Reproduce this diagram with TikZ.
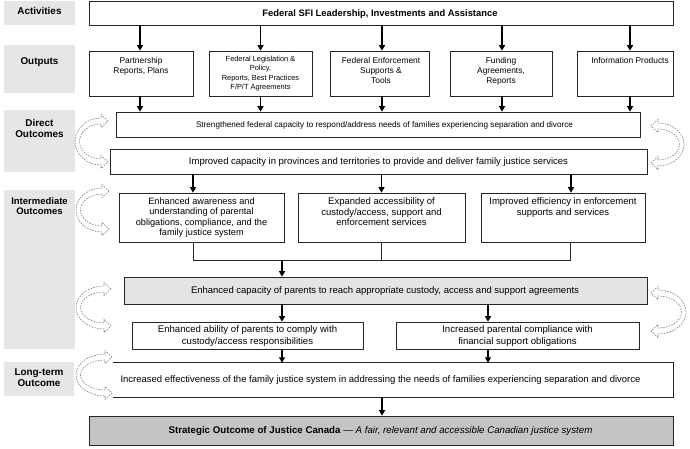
\documentclass[tikz,border=0pt]{standalone}
\usepackage{fontspec}
\setmainfont{Liberation Sans}
\usetikzlibrary{arrows.meta,calc}

\definecolor{lblgrey}{HTML}{E6E6E6}
\definecolor{capgrey}{HTML}{E4E4E4}
\definecolor{strgrey}{HTML}{C4C4C4}
\definecolor{dashgrey}{HTML}{7F7F7F}

\tikzset{
  box/.style={draw=black!85, line width=0.7pt, rectangle, inner sep=0pt},
  lbl/.style={fill=lblgrey, rectangle, inner sep=0pt},
  lbltext/.style={font=\fontsize{9.9}{11}\selectfont\bfseries, align=center, inner sep=0pt},
  txtS/.style={font=\fontsize{8.4}{10}\selectfont, align=center, inner sep=0pt},
  txtM/.style={font=\fontsize{9.5}{10.6}\selectfont, align=center, inner sep=0pt},
  txtD/.style={font=\fontsize{8.15}{9.4}\selectfont, align=center, inner sep=0pt},
  arr/.style={line width=1.3pt, -{Triangle[length=5.5pt,width=6pt]}},
  mline/.style={line width=0.7pt, draw=black!85},
  boxline/.style={line width=0.7pt, draw=black!85},
  dasharrow/.style={draw=dashgrey, line width=0.6pt, dash pattern=on 1.6pt off 1.2pt},
}

\newcommand{\curvarrow}[5]{%
  \pgfmathsetmacro{\cxa}{#1-#5*7}%
  \pgfmathsetmacro{\cLo}{#4}%
  \pgfmathsetmacro{\cLi}{#4+#5*4.5}%
  \pgfmathsetmacro{\cym}{(#2+#3)/2}%
  \pgfmathsetmacro{\coA}{\cxa+(\cLo-\cxa)*0.55}%
  \pgfmathsetmacro{\ciA}{\cxa+(\cLi-\cxa)*0.55}%
  \pgfmathsetmacro{\coT}{\cym-(\cym-#2+3)*0.55}%
  \pgfmathsetmacro{\coB}{\cym+(#3+3-\cym)*0.55}%
  \pgfmathsetmacro{\ciT}{\cym-(\cym-#2-3)*0.55}%
  \pgfmathsetmacro{\ciB}{\cym+(#3-3-\cym)*0.55}%
  \draw[dasharrow] (#1,#2) -- (\cxa,{#2-6.5}) -- (\cxa,{#2-3})
    .. controls (\coA,{#2-3}) and (\cLo,\coT) .. (\cLo,\cym)
    .. controls (\cLo,\coB) and (\coA,{#3+3}) .. (\cxa,{#3+3})
    -- (\cxa,{#3+6.5}) -- (#1,#3) -- (\cxa,{#3-6.5}) -- (\cxa,{#3-3})
    .. controls (\ciA,{#3-3}) and (\cLi,\ciB) .. (\cLi,\cym)
    .. controls (\cLi,\ciT) and (\ciA,{#2+3}) .. (\cxa,{#2+3})
    -- (\cxa,{#2+6.5}) -- cycle;%
}

\begin{document}
\begin{tikzpicture}[x=1pt, y=-1pt]
\useasboundingbox (0,0) rectangle (690,449);

% left labels
\node[lbl, minimum width=71pt, minimum height=24pt] (la) at (39.5,13) {};
\node[lbltext] (lat) at (39.5,11) {Activities};
\node[lbl, minimum width=71pt, minimum height=48pt] (lo) at (39.5,69) {};
\node[lbltext] (lot) at (39.5,62) {Outputs};
\node[lbl, minimum width=71pt, minimum height=62pt] (ld) at (39.5,141) {};
\node[lbltext] (ldt) at (39.5,128) {Direct\\Outcomes};
\node[lbl, minimum width=71pt, minimum height=159pt] (li) at (39.5,269.5) {};
\node[lbltext, font=\fontsize{9.5}{10.5}\selectfont\bfseries] (lit) at (39.5,206) {Intermediate\\Outcomes};
\node[lbl, minimum width=70pt, minimum height=34pt] (ll) at (39,379) {};
\node[lbltext] (llt) at (39,378) {Long-term\\Outcome};

% activities
\node[box, minimum width=584pt, minimum height=24pt] (act) at (381,13) {};
\node[font=\fontsize{9.4}{10}\selectfont\bfseries, inner sep=0pt] (actt) at (380,14) {Federal SFI Leadership, Investments and Assistance};

% outputs
\node[box, minimum width=104pt, minimum height=45pt] (o1) at (141,73.5) {};
\node[box, minimum width=103pt, minimum height=45pt] (o2) at (260.5,73.5) {};
\node[box, minimum width=99pt, minimum height=45pt] (o3) at (379.5,73.5) {};
\node[box, minimum width=102pt, minimum height=45pt] (o4) at (501,73.5) {};
\node[box, minimum width=96pt, minimum height=45pt] (o5) at (625,73.5) {};
\node[txtS, anchor=north] (o1t) at (141,57) {Partnership\\Reports, Plans};
\node[txtS, font=\fontsize{7.4}{9.3}\selectfont, anchor=north] (o2t) at (260.5,56) {Federal Legislation \&\\Policy,\\Reports, Best Practices\\F/P/T Agreements};
\node[txtS, anchor=north] (o3t) at (381,57) {Federal Enforcement\\Supports \&\\Tools};
\node[txtS, anchor=north] (o4t) at (501,57) {Funding\\Agreements,\\Reports};
\node[txtS, anchor=north] (o5t) at (630,57) {Information Products};

% direct outcomes
\node[box, minimum width=524pt, minimum height=25pt] (d1) at (378,124.5) {};
\node[txtD] (d1t) at (384.5,125) {Strengthened federal capacity to respond/address needs of families experiencing separation and divorce};
\node[box, minimum width=537pt, minimum height=25pt] (d2) at (378.5,161.5) {};
\node[txtM] (d2t) at (378.5,162) {Improved capacity in provinces and territories to provide and deliver family justice services};

% intermediate outcomes
\node[box, minimum width=165pt, minimum height=49pt] (i1) at (201.5,217.5) {};
\node[txtM, font=\fontsize{9.2}{10.4}\selectfont, anchor=north] (i1t) at (201.5,197.5) {Enhanced awareness and\\understanding of parental\\obligations, compliance, and the\\family justice system};
\node[box, minimum width=167pt, minimum height=49pt] (i2) at (381.5,217.5) {};
\node[txtM, anchor=north] (i2t) at (381.5,197.5) {Expanded accessibility of\\custody/access, support and\\enforcement services};
\node[box, minimum width=164pt, minimum height=49pt] (i3) at (563,217.5) {};
\node[txtM, anchor=north] (i3t) at (563,197.5) {Improved efficiency in enforcement\\supports and services};

\node[box, fill=capgrey, minimum width=523pt, minimum height=27pt] (cap) at (385.5,290.5) {};
\node[txtM] (capt) at (385,291.5) {Enhanced capacity of parents to reach appropriate custody, access and support agreements};

\node[box, minimum width=231pt, minimum height=27pt] (ea) at (247.5,335.5) {};
\node[txtM, font=\fontsize{9.6}{11.2}\selectfont] (eat) at (247.5,336) {Enhanced ability of parents to comply with\\custody/access responsibilities};
\node[box, minimum width=243pt, minimum height=27pt] (ipc) at (517.5,335.5) {};
\node[txtM, font=\fontsize{9.6}{11.2}\selectfont] (ipct) at (517.5,336) {Increased parental compliance with\\financial support obligations};

% long-term outcome (open on the left)
\node[inner sep=0pt, minimum width=560pt, minimum height=34pt] (lt) at (393,380) {};
\draw[boxline] (lt.north west) -- (lt.north east) -- (lt.south east) -- (lt.south west);
\node[txtM] (ltt) at (380.5,380.5) {Increased effectiveness of the family justice system in addressing the needs of families experiencing separation and divorce};

% strategic outcome
\node[box, fill=strgrey, minimum width=584pt, minimum height=29pt] (st) at (381,430.5) {};
\node[font=\fontsize{9.7}{10}\selectfont, inner sep=0pt] (stt) at (380.5,431) {\textbf{Strategic Outcome of Justice Canada} --- \textit{A fair, relevant and accessible Canadian justice system}};

% arrows activities -> outputs
\draw[arr] ($(act.south -| o1.north)+(-1,0)$) -- ($(o1.north)+(-1,0)$);
\draw[arr] (act.south -| o2.north) -- (o2.north);
\draw[arr] ($(act.south -| o3.north)+(2.5,0)$) -- ($(o3.north)+(2.5,0)$);
\draw[arr] ($(act.south -| o4.north)+(1,0)$) -- ($(o4.north)+(1,0)$);
\draw[arr] ($(act.south -| o5.north)+(5,0)$) -- ($(o5.north)+(5,0)$);

% arrows outputs -> direct
\draw[arr] ($(o1.south)+(-1,0)$) -- ($(o1.south |- d1.north)+(-1,0)$);
\draw[arr] (o2.south) -- (o2.south |- d1.north);
\draw[arr] ($(o3.south)+(2.5,0)$) -- ($(o3.south |- d1.north)+(2.5,0)$);
\draw[arr] ($(o4.south)+(1,0)$) -- ($(o4.south |- d1.north)+(1,0)$);
\draw[arr] ($(o5.south)+(5,0)$) -- ($(o5.south |- d1.north)+(5,0)$);

% d2 -> intermediate
\draw[arr] ($(i1.north |- d2.south)+(-8.5,0)$) -- ($(i1.north)+(-8.5,0)$);
\draw[arr] (i2.north |- d2.south) -- (i2.north);
\draw[arr] ($(i3.north |- d2.south)+(8,0)$) -- ($(i3.north)+(8,0)$);

% merge
\coordinate (jL) at (193,260);
\coordinate (jR) at (570,260);
\coordinate (jM) at (282,260);
\draw[mline] ($(i1.south)+(-8.5,0)$) -- (jL) -- (jR) -- ($(i3.south)+(7,0)$);
\draw[mline] (i2.south) -- (i2.south |- jL);
\draw[arr] (jM) -- (jM |- cap.north);

% cap -> ea, ipc
\draw[arr] ($(cap.south -| ea.north)+(34.5,0)$) -- ($(ea.north)+(34.5,0)$);
\draw[arr] ($(cap.south -| ipc.north)+(-29.5,0)$) -- ($(ipc.north)+(-29.5,0)$);
% ea, ipc -> lt
\draw[arr] ($(ea.south)+(34.5,0)$) -- ($(ea.south |- lt.north)+(34.5,0)$);
\draw[arr] ($(ipc.south)+(-29.5,0)$) -- ($(ipc.south |- lt.north)+(-29.5,0)$);
% lt -> strategic
\draw[arr] ($(lt.south -| st.north)+(1,0)$) -- ($(st.north)+(1,0)$);

% dashed curved arrows
\curvarrow{108}{121}{162}{75}{1}
\curvarrow{109}{191}{229}{76}{1}
\curvarrow{111}{289}{326}{76}{1}
\curvarrow{112}{357}{393}{76}{1}
\curvarrow{651}{126}{163}{684}{-1}
\curvarrow{651}{293}{331}{686}{-1}
\end{tikzpicture}
\end{document}
